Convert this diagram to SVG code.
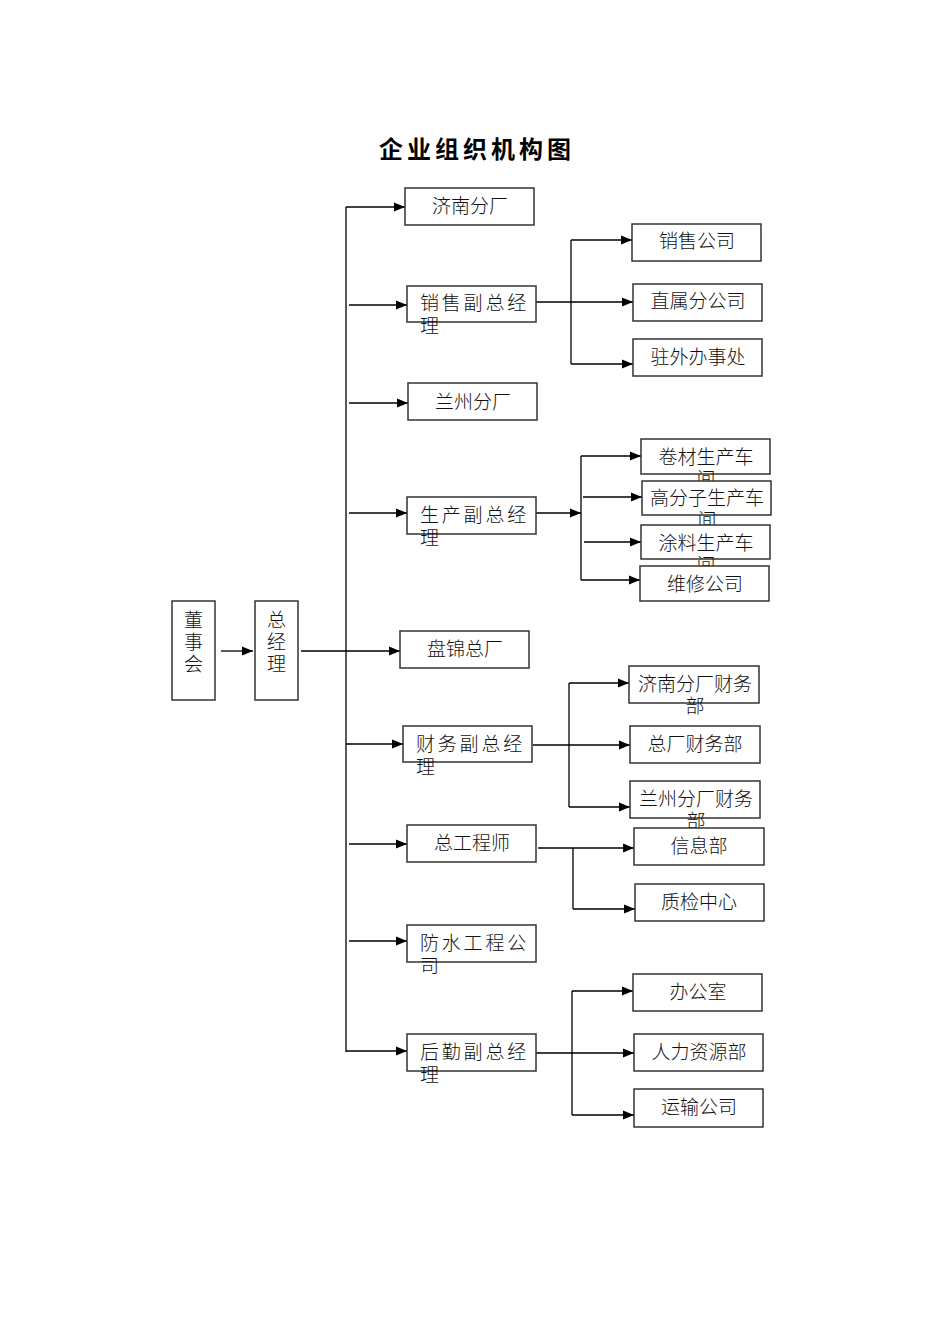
<svg xmlns="http://www.w3.org/2000/svg" width="950" height="1344" viewBox="0 0 950 1344">
<defs>
<marker id="ah" markerUnits="userSpaceOnUse" markerWidth="12" markerHeight="10" refX="11" refY="5" orient="auto">
<path d="M0,0.6 L11,5 L0,9.4 Z" fill="#000"/>
</marker>
</defs>
<style>
.box{fill:#fff;stroke:#333;stroke-width:1.5}
.t{font-family:"Liberation Sans","Noto Sans CJK SC",sans-serif;font-size:19px;font-weight:300;fill:#111}
.c{text-anchor:middle}
.sp{letter-spacing:2.8px}
.ln{fill:none;stroke:#000;stroke-width:1.3}
.ar{fill:none;stroke:#000;stroke-width:1.3;marker-end:url(#ah)}
.title{font-family:"Liberation Sans","Noto Sans CJK SC",sans-serif;font-size:24px;font-weight:bold;letter-spacing:4px;text-anchor:middle;fill:#000}
</style>
<rect width="950" height="1344" fill="#fff"/>
<text class="title" x="477" y="158">企业组织机构图</text>

<g id="connectors">
<line class="ar" x1="221" y1="651" x2="253" y2="651"/>
<line class="ar" x1="301" y1="651" x2="400" y2="651"/>
<line class="ln" x1="346" y1="207" x2="346" y2="1052"/>
<polyline class="ar" points="346,207 405,207"/>
<line class="ar" x1="349" y1="305" x2="407" y2="305"/>
<line class="ar" x1="349" y1="403" x2="408" y2="403"/>
<line class="ar" x1="349" y1="513" x2="407" y2="513"/>
<line class="ar" x1="346" y1="744" x2="403" y2="744"/>
<line class="ar" x1="349" y1="844" x2="407" y2="844"/>
<line class="ar" x1="349" y1="941" x2="407" y2="941"/>
<line class="ar" x1="346" y1="1051" x2="407" y2="1051"/>

<line class="ar" x1="536" y1="302" x2="633" y2="302"/>
<line class="ln" x1="571" y1="240" x2="571" y2="364"/>
<line class="ar" x1="571" y1="240" x2="632" y2="240"/>
<line class="ar" x1="571" y1="364" x2="633" y2="364"/>

<line class="ar" x1="536" y1="513" x2="581" y2="513"/>
<line class="ln" x1="581" y1="456" x2="581" y2="580"/>
<line class="ar" x1="581" y1="456" x2="641" y2="456"/>
<line class="ar" x1="583" y1="497" x2="642" y2="497"/>
<line class="ar" x1="584" y1="542" x2="641" y2="542"/>
<line class="ar" x1="581" y1="580" x2="640" y2="580"/>

<line class="ar" x1="533" y1="745" x2="630" y2="745"/>
<line class="ln" x1="569" y1="683" x2="569" y2="807"/>
<line class="ar" x1="569" y1="683" x2="629" y2="683"/>
<line class="ar" x1="569" y1="807" x2="630" y2="807"/>

<line class="ar" x1="538" y1="848" x2="634" y2="848"/>
<line class="ln" x1="573" y1="848" x2="573" y2="909"/>
<line class="ar" x1="573" y1="909" x2="635" y2="909"/>

<line class="ar" x1="536" y1="1053" x2="634" y2="1053"/>
<line class="ln" x1="572" y1="991" x2="572" y2="1115"/>
<line class="ar" x1="572" y1="991" x2="633" y2="991"/>
<line class="ar" x1="572" y1="1115" x2="634" y2="1115"/>
</g>

<g id="dongshihui">
<rect class="box" x="172" y="601" width="43" height="99"/>
<text class="t c" x="193.5" y="627">董</text>
<text class="t c" x="193.5" y="649">事</text>
<text class="t c" x="193.5" y="671">会</text>
</g>
<g id="zongjingli">
<rect class="box" x="255" y="601" width="43" height="99"/>
<text class="t c" x="276.5" y="627">总</text>
<text class="t c" x="276.5" y="649">经</text>
<text class="t c" x="276.5" y="671">理</text>
</g>

<g id="jinan">
<rect class="box" x="405" y="188" width="129" height="37"/>
<text class="t c" x="470" y="213">济南分厂</text>
</g>
<g id="xiaoshou">
<rect class="box" x="407" y="286" width="129" height="36"/>
<text class="t sp" x="420" y="310">销售副总经</text>
<text class="t" x="420" y="333">理</text>
</g>
<g id="lanzhou">
<rect class="box" x="408" y="383" width="129" height="37"/>
<text class="t c" x="473" y="409">兰州分厂</text>
</g>
<g id="shengchan">
<rect class="box" x="407" y="497" width="129" height="37"/>
<text class="t sp" x="420" y="522">生产副总经</text>
<text class="t" x="420" y="545">理</text>
</g>
<g id="panjin">
<rect class="box" x="400" y="631" width="129" height="37"/>
<text class="t c" x="465" y="656">盘锦总厂</text>
</g>
<g id="caiwu">
<rect class="box" x="403" y="726" width="129" height="36"/>
<text class="t sp" x="416" y="751">财务副总经</text>
<text class="t" x="416" y="774">理</text>
</g>
<g id="zonggong">
<rect class="box" x="407" y="825" width="129" height="37"/>
<text class="t c" x="472" y="850">总工程师</text>
</g>
<g id="fangshui">
<rect class="box" x="407" y="925" width="129" height="37"/>
<text class="t sp" x="420" y="950">防水工程公</text>
<text class="t" x="420" y="973">司</text>
</g>
<g id="houqin">
<rect class="box" x="407" y="1034" width="129" height="37"/>
<text class="t sp" x="420" y="1059">后勤副总经</text>
<text class="t" x="420" y="1082">理</text>
</g>

<g id="xiaoshougongsi">
<rect class="box" x="632" y="224" width="129" height="37"/>
<text class="t c" x="697" y="248">销售公司</text>
</g>
<g id="zhishu">
<rect class="box" x="633" y="284" width="129" height="37"/>
<text class="t c" x="698" y="308">直属分公司</text>
</g>
<g id="zhuwai">
<rect class="box" x="633" y="339" width="129" height="37"/>
<text class="t c" x="698" y="364">驻外办事处</text>
</g>

<g id="juancai">
<rect class="box" x="641" y="439" width="129" height="35"/>
<text class="t c" x="706" y="464">卷材生产车</text>
<text class="t c" x="706" y="486">间</text>
</g>
<g id="gaofenzi">
<rect class="box" x="642" y="481" width="129" height="34"/>
<text class="t c" x="707" y="505">高分子生产车</text>
<text class="t c" x="707" y="527">间</text>
</g>
<g id="tuliao">
<rect class="box" x="641" y="525" width="129" height="34"/>
<text class="t c" x="706" y="550">涂料生产车</text>
<text class="t c" x="706" y="572">间</text>
</g>
<g id="weixiu">
<rect class="box" x="640" y="566" width="129" height="35"/>
<text class="t c" x="705" y="591">维修公司</text>
</g>

<g id="jinancaiwu">
<rect class="box" x="629" y="666" width="130" height="37"/>
<text class="t c" x="695" y="691">济南分厂财务</text>
<text class="t c" x="695" y="713">部</text>
</g>
<g id="zongchangcaiwu">
<rect class="box" x="630" y="726" width="130" height="37"/>
<text class="t c" x="695" y="751">总厂财务部</text>
</g>
<g id="lanzhoucaiwu">
<rect class="box" x="630" y="781" width="130" height="37"/>
<text class="t c" x="696" y="806">兰州分厂财务</text>
<text class="t c" x="696" y="828">部</text>
</g>
<g id="xinxi">
<rect class="box" x="634" y="828" width="130" height="37"/>
<text class="t c" x="699" y="853">信息部</text>
</g>
<g id="zhijian">
<rect class="box" x="635" y="884" width="129" height="37"/>
<text class="t c" x="699" y="909">质检中心</text>
</g>

<g id="bangongshi">
<rect class="box" x="633" y="974" width="129" height="37"/>
<text class="t c" x="698" y="999">办公室</text>
</g>
<g id="renli">
<rect class="box" x="634" y="1034" width="129" height="37"/>
<text class="t c" x="699" y="1059">人力资源部</text>
</g>
<g id="yunshu">
<rect class="box" x="634" y="1089" width="129" height="38"/>
<text class="t c" x="699" y="1114">运输公司</text>
</g>
</svg>
